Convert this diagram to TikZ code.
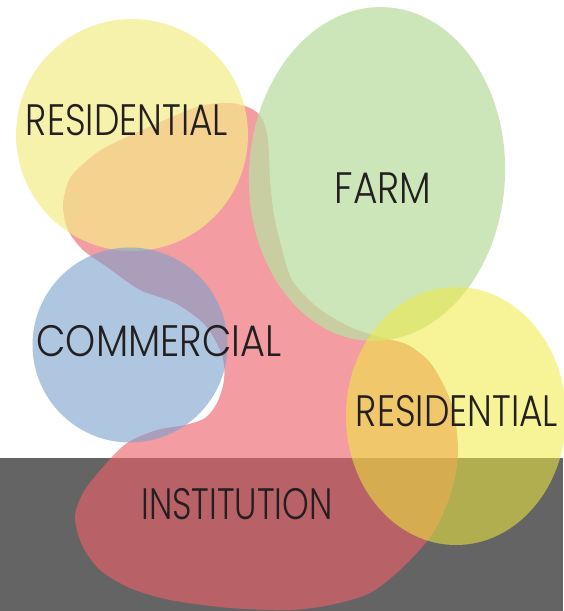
\documentclass[tikz,border=0pt]{standalone}
\usepackage{fontspec}
\setmainfont{Poppins}[UprightFont=* Light, FakeStretch=0.82]
\usepackage{tikz}

\definecolor{ground}{RGB}{101,100,101}
\definecolor{instpink}{RGB}{237,96,104}
\definecolor{resyellow}{RGB}{243,237,134}
\definecolor{resyellowb}{RGB}{240,235,64}
\definecolor{farmgreen}{RGB}{188,222,162}
\definecolor{commblue}{RGB}{123,160,205}
\definecolor{labelink}{RGB}{35,31,32}

\tikzset{
  zonelabel/.style={font=\fontsize{44}{44}\selectfont, text=labelink, inner sep=0pt}
}

\begin{document}
\begin{tikzpicture}[x=1pt,y=-1pt]
\useasboundingbox (0,0) rectangle (563,611);
\fill[white] (0,0) rectangle (563,611);
\fill[ground] (0,458) rectangle (563,611);

% institution
\fill[instpink, fill opacity=0.61] plot[smooth cycle] coordinates {
  (200,106) (230,103) (250,108) (262,118) (268,140) (270,180) (274,215)
  (281,245) (292,280) (317,307) (350,327) (380,337) (408,345) (432,365)
  (452,405) (458,450) (452,490) (433,533) (403,567) (370,593) (330,605)
  (290,610) (230,608) (170,600) (130,588) (100,570) (82,545) (75,517)
  (83,493) (103,467) (127,443) (157,430) (185,425) (205,418) (217,403)
  (224,380) (222,355) (205,325) (175,303) (140,290) (107,267) (83,250)
  (68,230) (63,205) (70,178) (90,158) (110,145) (160,122)};

% residential, top left
\fill[resyellow, fill opacity=0.68] (132,135) circle[radius=116];

% farm
\fill[farmgreen, fill opacity=0.75, rotate around={-3:(377,174)}]
  (377,174) ellipse[x radius=128, y radius=167];

% commercial
\fill[commblue, fill opacity=0.6] (130,345) circle[radius=97.5];

% residential, right
\fill[resyellowb, fill opacity=0.55] (456,416) ellipse[x radius=110, y radius=129];

\node[zonelabel] at (127,120) (res1) {RESIDENTIAL};
\node[zonelabel] at (383,188) (farm) {\scalebox{1.04}[1]{FARM}};
\node[zonelabel] at (159,341) (comm) {\scalebox{1.06}[1]{COMMERCIAL}};
\node[zonelabel] at (457,411) (res2) {RESIDENTIAL};
\node[zonelabel] at (237,504) (inst) {\scalebox{0.94}[1]{INSTITUTION}};

\end{tikzpicture}
\end{document}
